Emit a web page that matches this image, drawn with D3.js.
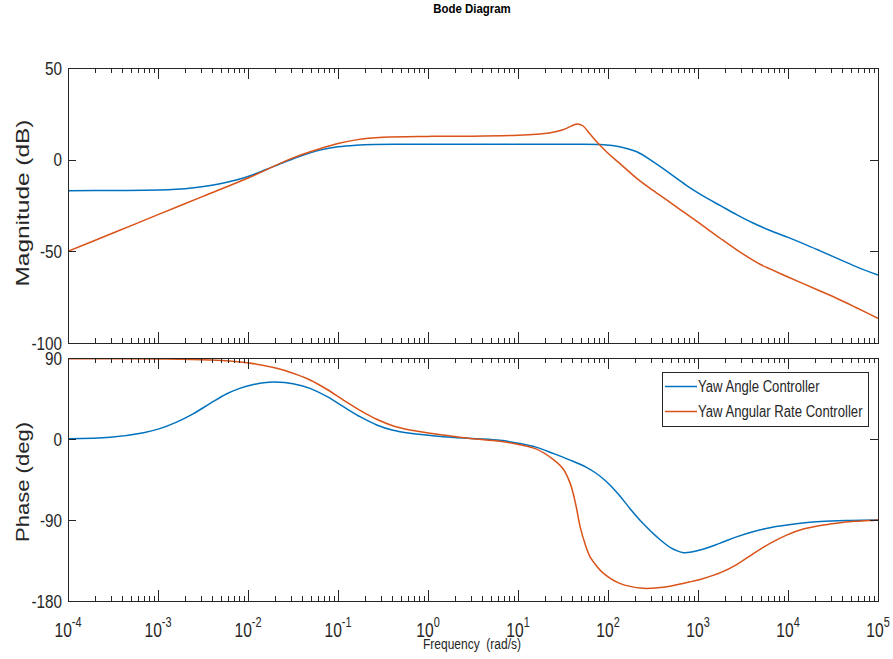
<!DOCTYPE html>
<html>
<head>
<meta charset="utf-8">
<script src="https://cdn.jsdelivr.net/npm/d3@7"></script>
<style>
  body { margin: 0; background: #fff; }
  text { font-family: "Liberation Sans", Arial, sans-serif; fill: #262626; }
</style>
</head>
<body>
<div id="viz"></div>
<script>
"use strict";

const w = 893;
const h = 659;

// frequency points given as log10(rad/s)
const angleMag = [
  [-4, -16.9], [-3.5, -16.8], [-3, -16.6], [-2.8, -16.2], [-2.6, -15.3], [-2.4, -13.9],
  [-2.2, -11.9], [-2.0, -9.2], [-1.8, -5.4], [-1.6, -1.4], [-1.4, 2.3], [-1.2, 5.2],
  [-1.0, 7.0], [-0.8, 7.9], [-0.6, 8.3], [-0.3, 8.4], [0, 8.4], [1, 8.4], [1.5, 8.4],
  [1.95, 8.2], [2.13, 7.1], [2.32, 4.3], [2.5, -1.1], [2.69, -7.6], [2.87, -14.0],
  [3.06, -19.9], [3.25, -25.1], [3.43, -30.0], [3.6, -34.3], [3.8, -38.6], [4.0, -42.4],
  [4.17, -45.8], [4.35, -49.6], [4.54, -53.7], [4.75, -58.2], [5.0, -63]
];
const rateMag = [
  [-4, -50], [-3.5, -40], [-3, -30], [-2.5, -20], [-2, -10], [-1.5, 1.0], [-1.2, 6.0],
  [-1.0, 8.8], [-0.8, 10.8], [-0.5, 12.2], [0, 12.7], [0.5, 12.8], [1.0, 13.3],
  [1.2, 13.8], [1.36, 14.7], [1.5, 16.3], [1.6, 18.5], [1.66, 19.5], [1.72, 18.5],
  [1.8, 14.0], [1.89, 8.9], [2.0, 3.5], [2.13, -2.0], [2.32, -10.2], [2.5, -16.8],
  [2.69, -23.3], [2.87, -29.6], [3.06, -36.2], [3.25, -43], [3.43, -49.2], [3.6, -54.5],
  [3.7, -57.3], [3.8, -59.6], [4.0, -64], [4.17, -67.6], [4.35, -71.5], [4.54, -75.6],
  [4.75, -80.5], [5.0, -86.5]
];
const anglePhase = [
  [-4, 0.3], [-3.53, 1.9], [-3.16, 7], [-2.98, 11.5], [-2.8, 18.5], [-2.61, 28],
  [-2.42, 39.5], [-2.24, 50], [-2.1, 56], [-1.95, 60.3], [-1.8, 62.8], [-1.7, 63.3],
  [-1.5, 61.5], [-1.31, 56.3], [-1.12, 47], [-0.94, 35.9], [-0.75, 24.5], [-0.57, 15.6],
  [-0.4, 10.0], [-0.2, 6.3], [0.17, 2.6], [0.54, 0.4], [0.8, -1.5], [1.02, -4.9],
  [1.2, -9], [1.39, -16], [1.58, -23.5], [1.76, -31.5], [1.86, -37.5], [1.95, -44.5],
  [2.04, -53], [2.13, -63], [2.25, -78], [2.39, -94], [2.54, -108.5], [2.7, -121],
  [2.84, -126.3], [3.0, -124], [3.24, -116], [3.42, -109], [3.61, -103], [3.8, -98.5],
  [3.99, -95.6], [4.36, -91.8], [4.7, -90.5], [5.0, -90]
];
const ratePhase = [
  [-4, 89.3], [-3, 89], [-2.42, 87.8], [-2.01, 84.8], [-1.68, 78.5], [-1.5, 73],
  [-1.31, 65.6], [-1.12, 55], [-0.94, 43.3], [-0.75, 31.5], [-0.57, 21.9], [-0.4, 15],
  [-0.2, 10], [0.17, 4.4], [0.47, 0.6], [0.8, -2.5], [1.02, -6.3], [1.2, -11],
  [1.39, -22.6], [1.5, -33], [1.58, -49.3], [1.64, -72], [1.69, -97.4], [1.75, -118],
  [1.8, -130.8], [1.88, -142], [1.95, -149.3], [2.13, -160.4], [2.39, -165.9],
  [2.55, -165.4], [2.69, -163.5], [2.9, -159], [3.06, -155], [3.25, -148.5],
  [3.43, -139.5], [3.62, -127], [3.8, -116], [3.99, -106.5], [4.17, -100], [4.36, -96],
  [4.54, -93.5], [4.75, -91.5], [5.0, -90]
];

const decades = [-4, -3, -2, -1, 0, 1, 2, 3, 4, 5];
const magTicks = [50, 0, -50, -100];
const phaseTicks = [90, 0, -90, -180];
const seriesNames = ["Yaw Angle Controller", "Yaw Angular Rate Controller"];
const seriesColors = ["#0072BD", "#D95319"];

const left = 68, right = 878;
const magTop = 68, magBottom = 343;
const phTop = 358, phBottom = 601;
const squeeze = 0.8;   // the reference text is horizontally narrow

const x = d3.scaleLog().domain([1e-4, 1e5]).range([left, right]);
const yMag = d3.scaleLinear().domain([-100, 50]).range([magBottom, magTop]);
const yPh = d3.scaleLinear().domain([-180, 90]).range([phBottom, phTop]);

const svg = d3.select("#viz")
  .append("svg")
  .attr("width", w)
  .attr("height", h)

// narrow text helper
function narrow(parent, px, py, size, anchor, sx) {
  return parent.append("text")
    .attr("transform", `translate(${px},${py}) scale(${sx || squeeze},1)`)
    .attr("text-anchor", anchor)
    .style("font-size", size + "px");
}

// minor + major tick positions
const minorTicks = [];
decades.slice(0, -1).forEach(d => {
  for (let k = 2; k <= 9; k++) minorTicks.push(k * Math.pow(10, d));
});
const majorTicks = decades.map(d => Math.pow(10, d));

function drawPanel(y, top, bottom, yTicks, series, id) {
  const g = svg.append("g");

  g.append("clipPath").attr("id", id)
    .append("rect")
    .attr("x", left).attr("y", top)
    .attr("width", right - left).attr("height", bottom - top);

  const line = d3.line()
    .x(d => x(Math.pow(10, d[0])))
    .y(d => y(d[1]))
    .curve(d3.curveCatmullRom.alpha(0.5));

  series.forEach((s, i) => {
    g.append("path")
      .datum(s)
      .attr("clip-path", `url(#${id})`)
      .attr("fill", "none")
      .attr("stroke", seriesColors[i])
      .attr("stroke-width", 1.5)
      .attr("d", line);
  });

  const ax = g.append("g").attr("stroke", "#262626").attr("stroke-width", 1);

  // x ticks, top and bottom, pointing in
  [[minorTicks, 5], [majorTicks, 11]].forEach(([ticks, len]) => {
    ticks.forEach(t => {
      const xx = Math.round(x(t)) + 0.5;
      ax.append("line").attr("x1", xx).attr("x2", xx).attr("y1", top).attr("y2", top + len);
      ax.append("line").attr("x1", xx).attr("x2", xx).attr("y1", bottom).attr("y2", bottom - len);
    });
  });

  // y ticks, left and right
  yTicks.forEach(t => {
    const yy = Math.round(y(t)) + 0.5;
    ax.append("line").attr("x1", left).attr("x2", left + 8).attr("y1", yy).attr("y2", yy);
    ax.append("line").attr("x1", right).attr("x2", right - 8).attr("y1", yy).attr("y2", yy);
    narrow(g, 62, y(t) + 6.5, 18, "end", 0.85).text(t);
  });

  ax.append("rect")
    .attr("x", left + 0.5).attr("y", top + 0.5)
    .attr("width", right - left).attr("height", bottom - top)
    .attr("fill", "none");

  return g;
}

drawPanel(yMag, magTop, magBottom, magTicks, [angleMag, rateMag], "clipMag");
drawPanel(yPh, phTop, phBottom, phaseTicks, [anglePhase, ratePhase], "clipPh");

// x tick labels 10^n
decades.forEach(d => {
  const t = narrow(svg, x(Math.pow(10, d)), 637, 20, "middle", 0.78);
  t.append("tspan").text("10");
  t.append("tspan")
    .attr("dy", -10)
    .style("font-size", "14px")
    .text(d);
});

// titles
narrow(svg, 472, 13, 13, "middle", 0.88)
  .style("font-weight", "bold")
  .style("fill", "#000")
  .text("Bode Diagram");

narrow(svg, 472, 649, 15, "middle", 0.8)
  .attr("xml:space", "preserve")
  .text("Frequency  (rad/s)");

svg.append("text")
  .attr("transform", "translate(29,203) rotate(-90)")
  .attr("text-anchor", "middle")
  .attr("textLength", 167)
  .attr("lengthAdjust", "spacingAndGlyphs")
  .style("font-size", "18px")
  .text("Magnitude (dB)");

svg.append("text")
  .attr("transform", "translate(29,482) rotate(-90)")
  .attr("text-anchor", "middle")
  .attr("textLength", 120)
  .attr("lengthAdjust", "spacingAndGlyphs")
  .style("font-size", "18px")
  .text("Phase (deg)");

// legend
const legend = svg.append("g");
legend.append("rect")
  .attr("x", 662.5).attr("y", 372.5)
  .attr("width", 206).attr("height", 54)
  .attr("fill", "#fff")
  .attr("stroke", "#262626")
  .attr("stroke-width", 1);

seriesNames.forEach((name, i) => {
  const yy = 386.5 + i * 25;
  legend.append("line")
    .attr("x1", 665).attr("x2", 697)
    .attr("y1", yy).attr("y2", yy)
    .attr("stroke", seriesColors[i])
    .attr("stroke-width", 1.5);
  narrow(legend, 698, yy + 5.5, 16, "start", 0.82).text(name);
});
</script>
</body>
</html>
